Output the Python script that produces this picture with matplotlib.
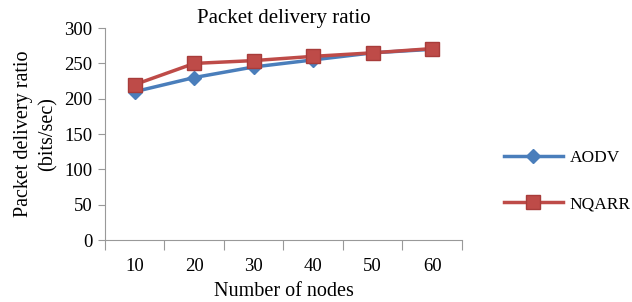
import matplotlib.pyplot as plt
import numpy as np

plt.rcParams['font.family'] = ['Liberation Serif', 'DejaVu Serif']

nodes = ["10", "20", "30", "40", "50", "60"]
aodv = [210, 230, 245, 255, 265, 270]
nqarr = [220, 250, 254, 260, 265, 271]

fig = plt.figure(figsize=(6.32, 3.02), dpi=100)
ax = fig.add_axes([0.166, 0.205, 0.565, 0.702])

x = np.arange(1, len(nodes) + 1)
ax.plot(x, aodv, color="#4a7ebb", lw=2.5, marker="D", ms=7, label="AODV")
ax.plot(x, nqarr, color="#be4b48", lw=2.5, marker="s", ms=9.5,
        markeredgecolor="#a83c3a", label="NQARR")

ax.set_xlim(0.5, len(nodes) + 0.5)
ax.set_ylim(0, 300)
ax.set_yticks(range(0, 301, 50))
ax.set_xticks(np.arange(0.5, len(nodes) + 1), labels=[])
ax.set_xticks(x, labels=nodes, minor=True)
ax.tick_params(axis="x", which="major", length=7, color="#999999", direction="out")
ax.tick_params(axis="x", which="minor", length=0, pad=13, labelsize=13.5)
ax.tick_params(axis="y", length=5, color="#999999", labelsize=13.5, pad=4)

for s in ["top", "right"]:
    ax.spines[s].set_visible(False)
for s in ["left", "bottom"]:
    ax.spines[s].set_color("#999999")

ax.set_title("Packet delivery ratio", fontsize=15, pad=4)
ax.set_xlabel("Number of nodes", fontsize=14.5, labelpad=5)
ax.set_ylabel("Packet delivery ratio\n(bits/sec)", fontsize=14.5, labelpad=5,
              linespacing=1.35)

fig.legend(loc="center left", bbox_to_anchor=(0.772, 0.40), frameon=False,
           fontsize=12.5, labelspacing=1.75, handlelength=3.4, handletextpad=0.4)

fig.savefig("out.png", dpi=100)
